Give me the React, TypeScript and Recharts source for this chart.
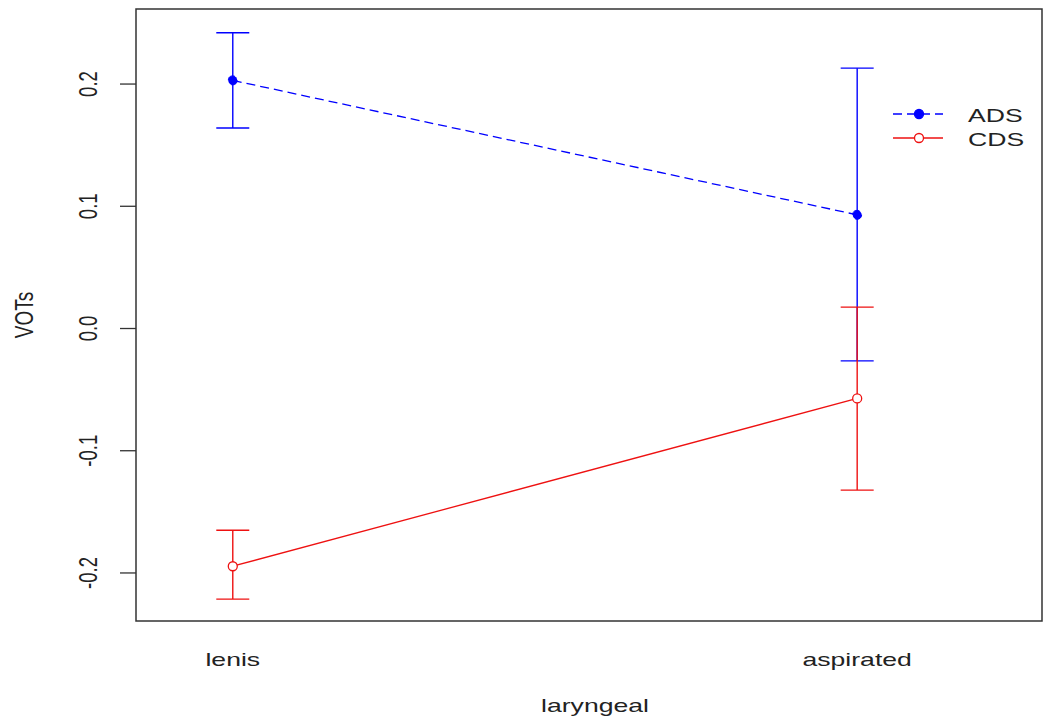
import React from 'react';
import {
  ComposedChart,
  Line,
  ErrorBar,
  XAxis,
  YAxis,
  ReferenceArea,
  Legend,
} from 'recharts';

// factor levels on the x axis
const categories = ['lenis', 'aspirated'];

// ADS means and interval bounds
const adsMean = [0.203, 0.093];
const adsLow = [0.164, -0.0265];
const adsHigh = [0.242, 0.213];

// CDS means and interval bounds
const cdsMean = [-0.1945, -0.0572];
const cdsLow = [-0.2214, -0.1322];
const cdsHigh = [-0.165, 0.0175];

const yTicks = [-0.2, -0.1, 0.0, 0.1, 0.2];
const yDomain = [-0.2393, 0.2614];
const xDomain = [0.845, 2.296];

const FONT = '"Liberation Sans", Arial, Helvetica, sans-serif';
const BLUE = '#0000ff';
const RED = '#ee1111';
const STRETCH = 1.4; // the original picture is wider than tall, glyphs look stretched

const data = categories.map((name, i) => ({
  x: i + 1,
  name,
  ads: adsMean[i],
  adsErr: [adsMean[i] - adsLow[i], adsHigh[i] - adsMean[i]],
  cds: cdsMean[i],
  cdsErr: [cdsMean[i] - cdsLow[i], cdsHigh[i] - cdsMean[i]],
}));

const legendItems = [
  { name: 'ADS', color: BLUE, dash: '9 5', filled: true },
  { name: 'CDS', color: RED, dash: undefined, filled: false },
];

const XTick = (props: any) => {
  const { x, y, payload } = props;
  return (
    <text
      transform={`translate(${x},${y + 45}) scale(${STRETCH},1)`}
      textAnchor="middle"
      fontFamily={FONT}
      fontSize={19}
      fill="#222"
    >
      {categories[payload.value - 1]}
    </text>
  );
};

const YTick = (props: any) => {
  const { x, y, payload } = props;
  return (
    <text
      transform={`translate(${x - 21},${y}) rotate(-90) scale(1,${STRETCH})`}
      textAnchor="middle"
      fontFamily={FONT}
      fontSize={18.5}
      fill="#222"
    >
      {payload.value.toFixed(1)}
    </text>
  );
};

const xLabel = (props: any) => {
  const vb = props.viewBox;
  return (
    <text
      transform={`translate(${vb.x + vb.width / 2 + 6},${vb.y + 91}) scale(${STRETCH},1)`}
      textAnchor="middle"
      fontFamily={FONT}
      fontSize={19}
      fill="#222"
    >
      laryngeal
    </text>
  );
};

const yLabel = (props: any) => {
  const vb = props.viewBox;
  return (
    <text
      transform={`translate(33,${vb.y + vb.height / 2}) rotate(-90) scale(1,${STRETCH})`}
      textAnchor="middle"
      fontFamily={FONT}
      fontSize={19}
      fill="#222"
    >
      VOTs
    </text>
  );
};

const renderLegend = () => (
  <svg width={160} height={56}>
    {legendItems.map((item, i) => {
      const cy = 14 + i * 24;
      return (
        <g key={item.name}>
          <line x1={13} x2={63} y1={cy} y2={cy} stroke={item.color} strokeWidth={1.3} strokeDasharray={item.dash} />
          <circle cx={39} cy={cy} r={4.5} fill={item.filled ? item.color : '#fff'} stroke={item.color} strokeWidth={1.3} />
          <text
            transform={`translate(88,${cy + 8}) scale(${STRETCH},1)`}
            fontFamily={FONT}
            fontSize={19}
            fill="#222"
          >
            {item.name}
          </text>
        </g>
      );
    })}
  </svg>
);

export default function App() {
  return (
    <div style={{ position: 'absolute', left: 0, top: 0, width: 1045, height: 718, background: '#fff' }}>
      <ComposedChart width={1045} height={718} data={data} margin={{ top: 9, right: 3, bottom: 0, left: 0 }}>
        <XAxis
          dataKey="x"
          type="number"
          domain={xDomain}
          ticks={[1, 2]}
          allowDataOverflow
          axisLine={false}
          tickLine={false}
          tickSize={0}
          tickMargin={0}
          height={97}
          tick={<XTick />}
          label={xLabel}
        />
        <YAxis
          type="number"
          domain={yDomain}
          ticks={yTicks}
          allowDataOverflow
          axisLine={false}
          tickLine={{ stroke: '#333', strokeWidth: 1.3 }}
          tickSize={16}
          width={136}
          tick={<YTick />}
          label={yLabel}
        />
        <ReferenceArea
          x1={xDomain[0]}
          x2={xDomain[1]}
          y1={yDomain[0]}
          y2={yDomain[1]}
          ifOverflow="visible"
          fill="none"
          stroke="#333"
          strokeWidth={1.5}
        />
        <Line
          dataKey="ads"
          type="linear"
          stroke={BLUE}
          strokeWidth={1.3}
          strokeDasharray="9 5"
          dot={{ r: 4.5, fill: BLUE, stroke: BLUE, strokeWidth: 1 }}
          activeDot={false}
          isAnimationActive={false}
        >
          <ErrorBar dataKey="adsErr" direction="y" width={16.5} stroke={BLUE} strokeWidth={1.4} />
        </Line>
        <Line
          dataKey="cds"
          type="linear"
          stroke={RED}
          strokeWidth={1.3}
          dot={{ r: 4.5, fill: '#fff', stroke: RED, strokeWidth: 1.3 }}
          activeDot={false}
          isAnimationActive={false}
        >
          <ErrorBar dataKey="cdsErr" direction="y" width={16.5} stroke={RED} strokeWidth={1.4} />
        </Line>
        <Legend
          layout="vertical"
          align="center"
          verticalAlign="middle"
          wrapperStyle={{ position: 'absolute', left: 880, top: 100, width: 160, height: 56 }}
          content={renderLegend}
        />
      </ComposedChart>
    </div>
  );
}
